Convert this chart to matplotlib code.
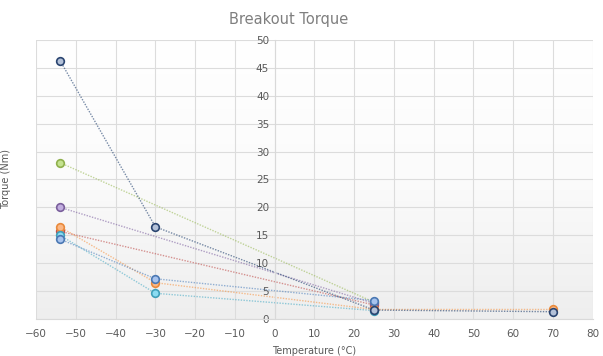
import matplotlib
matplotlib.use('Agg')
import matplotlib.pyplot as plt
import numpy as np

# temperature / torque readings per sample
navy_t = [-54, -30, 25, 70]
navy_v = [46.3, 16.5, 1.6, 1.3]
green_t = [-54, 25]
green_v = [28.0, 3.0]
purple_t = [-54, 25]
purple_v = [20.0, 2.8]
red_t = [-54, 25]
red_v = [15.7, 2.5]
orange_t = [-54, -30, 25, 70]
orange_v = [16.5, 6.5, 1.7, 1.7]
blue_t = [-54, -30, 25]
blue_v = [14.3, 7.2, 3.3]
cyan_t = [-54, -30, 25]
cyan_v = [15.0, 4.6, 1.5]

series = [
    (red_t, red_v, '#c0504d', '#e6a3a1', '#c0504d'),
    (green_t, green_v, '#9bbb59', '#c4e28f', '#8fb04c'),
    (purple_t, purple_v, '#8064a2', '#c2aee0', '#7a5f9c'),
    (orange_t, orange_v, '#f79646', '#fbb886', '#e98a3c'),
    (cyan_t, cyan_v, '#4bacc6', '#8adcf2', '#3f9fb9'),
    (blue_t, blue_v, '#4f81bd', '#a7c3ee', '#4a78b3'),
    (navy_t, navy_v, '#1f3f6e', '#b3c1d8', '#2a4470'),
]

fig = plt.figure(figsize=(6.03, 3.56), dpi=100)
ax = fig.add_axes([0.060, 0.104, 0.923, 0.784])

grad = np.linspace(0, 1, 256).reshape(-1, 1)
ax.imshow(grad, extent=[-60, 80, 0, 50], aspect='auto', origin='upper',
          cmap=matplotlib.colors.LinearSegmentedColormap.from_list('bg', ['#ffffff', '#fbfbfb', '#eeeeee']),
          zorder=0)

for t, v, lc, fc, ec in series:
    ax.plot(t, v, color=lc, linestyle=(0, (1, 1)), linewidth=1.0, alpha=0.6, zorder=2)
    ax.plot(t, v, linestyle='none', marker='o', markersize=5.5,
            markerfacecolor=fc, markeredgecolor=ec, markeredgewidth=1.2, zorder=3)

ax.set_xlim(-60, 80)
ax.set_ylim(0, 50)
ax.set_xticks(range(-60, 81, 10))
ax.set_yticks(range(0, 51, 5))
ax.grid(True, color='#dcdcdc', linewidth=0.8, zorder=1)
ax.set_axisbelow(True)

for s in ['top', 'right']:
    ax.spines[s].set_visible(False)
ax.spines['left'].set_position(('data', 0))
ax.spines['left'].set_color('#d9d9d9')
ax.spines['bottom'].set_color('#d9d9d9')
ax.tick_params(length=0, labelsize=7.5, colors='#595959')
ax.tick_params(axis='x', pad=7)
ax.tick_params(axis='y', pad=4)

fig.text(0.478, 0.944, 'Breakout Torque', fontsize=10.5, color='#7f7f7f',
         ha='center', va='center')
ax.set_xlabel('Temperature (°C)', fontsize=7, color='#595959', labelpad=5)
ax.set_ylabel('Torque (Nm)', fontsize=7, color='#595959')
ax.yaxis.set_label_coords(-0.045, 0.5)

fig.savefig('out.png', dpi=100)
